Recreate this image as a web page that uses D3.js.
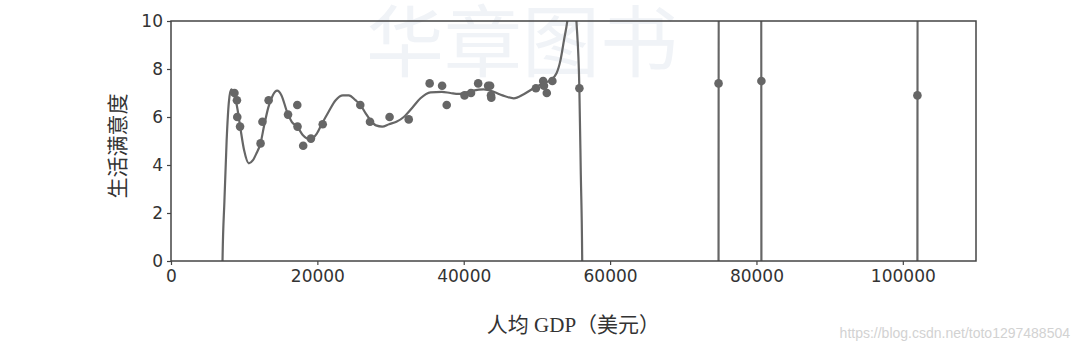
<!DOCTYPE html>
<html>
<head>
<meta charset="utf-8">
<script src="https://cdn.jsdelivr.net/npm/d3@7"></script>
<style>
  body { margin: 0; background: white; }
  text { font-family: "DejaVu Sans", sans-serif; }
</style>
</head>
<body>
<div id="container"></div>
<script>
/* CONSTANTS AND GLOBALS */
const margin = {top: 21, right: 104, bottom: 91, left: 171}
const width = 1080 - margin.left - margin.right
const height = 352 - margin.top - margin.bottom

// GDP per capita and life satisfaction, one dot per country
const gdp = [8670, 9009, 9055, 9437, 12240, 12495, 13341, 15992, 17257, 17288,
  18064, 19122, 20732, 25865, 27195, 29867, 32486, 35343, 37045, 37675,
  40107, 40997, 41974, 43332, 43603, 43724, 43771, 49866, 50855, 50962,
  51351, 52114, 55805, 74822, 80675, 101994]
const satisfaction = [7.0, 6.7, 6.0, 5.6, 4.9, 5.8, 6.7, 6.1, 6.5, 5.6,
  4.8, 5.1, 5.7, 6.5, 5.8, 6.0, 5.9, 7.4, 7.3, 6.5,
  6.9, 7.0, 7.4, 7.3, 7.3, 6.9, 6.8, 7.2, 7.5, 7.3,
  7.0, 7.5, 7.2, 7.4, 7.5, 6.9]

// fitted curve (values outside 0..10 are clipped)
const curveX = [6900, 7040, 7300, 7600, 7900, 8220, 8700, 9100, 9500, 10000,
  10630, 11200, 11700, 12230, 12700, 13300, 13900, 14510, 15100, 15870,
  16500, 17240, 18000, 19060, 19900, 20660, 21500, 22500, 23500, 24300,
  25200, 25890, 26600, 27260, 28000, 28860, 29800, 30800, 31810, 33000,
  34090, 35460, 37000, 38180, 39300, 40000, 41300, 42730, 44100, 45300,
  46840, 48200, 49570, 50800, 51860, 52680, 53230, 53700, 54140, 54500,
  54900, 55200, 55400, 55800, 56000, 56190, 56400, 74780, 74860, 80640,
  80710, 101960, 102030, 110000]
const curveY = [-20, 0, 2.5, 5.0, 6.6, 7.15, 6.9, 6.3, 5.5, 4.6,
  4.07, 4.2, 4.5, 4.9, 5.6, 6.4, 6.9, 7.1, 6.9, 6.2,
  5.8, 5.6, 5.25, 5.07, 5.3, 5.74, 6.2, 6.7, 6.9, 6.9,
  6.7, 6.5, 6.15, 5.87, 5.65, 5.6, 5.7, 5.8, 6.0, 6.4,
  6.78, 7.03, 7.05, 7.0, 6.96, 6.99, 7.1, 7.15, 7.05, 6.9,
  6.78, 6.95, 7.2, 7.4, 7.54, 7.82, 8.38, 9.2, 9.97, 11,
  11.5, 11, 10, 7.2, 3.6, 0, -20, -20, 20, 20,
  -20, -20, 20, 20]

const xTicks = [0, 20000, 40000, 60000, 80000, 100000]
const yTicks = [0, 2, 4, 6, 8, 10]

const ink = "#666666"
const axisColor = "#444"

const svg = d3.select("#container")
  .append("svg")
  .attr("width", 1080)
  .attr("height", 352)
  .style("background-color", "white")

// watermarks
svg.append("text")
  .attr("x", 522).attr("y", 71)
  .attr("text-anchor", "middle")
  .style("font-family", "Noto Sans CJK SC")
  .style("font-size", "78px")
  .style("fill", "#f0f3f7")
  .text("华章图书")

svg.append("text")
  .attr("x", 1070).attr("y", 338)
  .attr("text-anchor", "end")
  .style("font-family", "'Liberation Sans Narrow', 'Liberation Sans'")
  .style("font-size", "14px")
  .style("fill", "#d2d2d2")
  .text("https://blog.csdn.net/toto1297488504")

const g = svg.append("g")
  .attr("transform", `translate(${margin.left}, ${margin.top})`)

/* SCALES */
const xScale = d3.scaleLinear()
  .domain([0, 110000])
  .range([0, width])

const yScale = d3.scaleLinear()
  .domain([0, 10])
  .range([height, 0])

g.append("clipPath").attr("id", "clip")
  .append("rect").attr("width", width).attr("height", height)

/* CURVE */
const line = d3.line()
  .x(d => xScale(d[0]))
  .y(d => yScale(d[1]))
  .curve(d3.curveMonotoneX)

g.append("path")
  .datum(d3.zip(curveX, curveY))
  .attr("clip-path", "url(#clip)")
  .attr("fill", "none")
  .attr("stroke", ink)
  .attr("stroke-width", 2.2)
  .attr("d", line)

/* DOTS */
g.selectAll(".dot")
  .data(d3.zip(gdp, satisfaction))
  .join("circle")
  .attr("class", "dot")
  .attr("cx", d => xScale(d[0]))
  .attr("cy", d => yScale(d[1]))
  .attr("r", 4.3)
  .attr("fill", ink)

/* AXES */
const xAxis = g.append("g")
  .attr("transform", `translate(0, ${height})`)
  .call(d3.axisBottom(xScale).tickValues(xTicks).tickFormat(d3.format("d")).tickSize(4).tickPadding(5))
const yAxis = g.append("g")
  .call(d3.axisLeft(yScale).tickValues(yTicks).tickSize(4).tickPadding(4))

for (const ax of [xAxis, yAxis]) {
  ax.select(".domain").remove()
  ax.selectAll("line").attr("stroke", axisColor).attr("stroke-width", 1.2)
  ax.selectAll("text")
    .style("font-family", "DejaVu Sans")
    .style("font-size", "17px")
    .style("fill", "#333")
}

// frame
g.append("rect")
  .attr("width", width).attr("height", height)
  .attr("fill", "none")
  .attr("stroke", axisColor)
  .attr("stroke-width", 1.5)

/* LABELS */
g.append("text")
  .attr("transform", `translate(-46, ${height / 2 + 5}) rotate(-90)`)
  .attr("text-anchor", "middle")
  .style("font-family", "Noto Sans CJK SC")
  .style("font-size", "21px")
  .style("fill", "#333")
  .text("生活满意度")

g.append("text")
  .attr("x", width / 2)
  .attr("y", height + 71)
  .attr("text-anchor", "middle")
  .style("font-family", "'Liberation Serif', 'Noto Sans CJK SC'")
  .style("font-size", "21px")
  .style("fill", "#333")
  .text("人均 GDP（美元）")
</script>
</body>
</html>
